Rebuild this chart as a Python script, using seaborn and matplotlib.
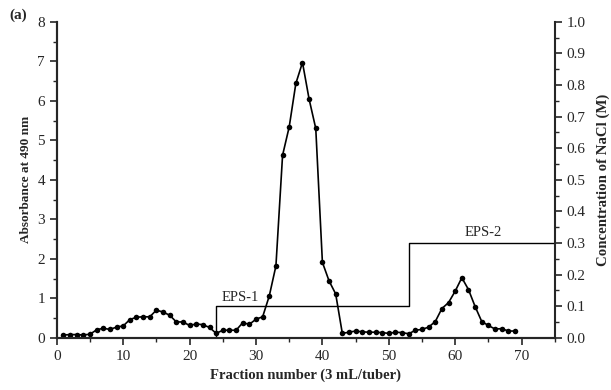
"""
Elution profile of EPS fractions (absorbance + NaCl gradient).
"""

import matplotlib.pyplot as plt
import matplotlib.ticker as mticker
import pandas as pd
import seaborn as sns

fractions = list(range(1, 70))
absorbance = [
    0.07, 0.08, 0.08, 0.07, 0.09, 0.20, 0.24, 0.21, 0.27, 0.30,
    0.46, 0.52, 0.53, 0.53, 0.70, 0.65, 0.57, 0.40, 0.40, 0.31,
    0.35, 0.33, 0.26, 0.11, 0.19, 0.19, 0.19, 0.38, 0.34, 0.47,
    0.53, 1.06, 1.82, 4.62, 5.34, 6.44, 6.97, 6.04, 5.30, 1.91,
    1.44, 1.11, 0.11, 0.14, 0.17, 0.15, 0.14, 0.14, 0.13, 0.11,
    0.14, 0.13, 0.10, 0.19, 0.21, 0.27, 0.41, 0.74, 0.89, 1.18,
    1.52, 1.22, 0.79, 0.41, 0.31, 0.22, 0.23, 0.17, 0.17,
]
nacl_x = [24, 24, 53, 53, 75]
nacl_conc = [0.0, 0.1, 0.1, 0.3, 0.3]

sns.set_style("ticks")
plt.rcParams["font.family"] = ["Liberation Serif", "DejaVu Serif"]
plt.rcParams["font.size"] = 10

df = pd.DataFrame({"Fraction": fractions, "Absorbance": absorbance})

fig = plt.figure(figsize=(6.11, 3.9), dpi=100)
ax = fig.add_axes([0.093, 0.134, 0.815, 0.81])

sns.lineplot(data=df, x="Fraction", y="Absorbance", ax=ax, color="black",
             linewidth=1.2, marker="o", markersize=4, markeredgewidth=0)
ax.set_xlim(0, 75)
ax.set_ylim(0, 8)
ax.xaxis.set_major_locator(mticker.MultipleLocator(10))
ax.xaxis.set_minor_locator(mticker.MultipleLocator(5))
ax.yaxis.set_major_locator(mticker.MultipleLocator(1))
ax.yaxis.set_minor_locator(mticker.MultipleLocator(0.5))
ax.set_xlabel("Fraction number (3 mL/tuber)", fontweight="bold", fontsize=10.5)
ax.set_ylabel("Absorbance at 490 nm", fontweight="bold", fontsize=9.5)

ax2 = ax.twinx()
ax2.plot(nacl_x, nacl_conc, color="black", linewidth=1.0)
ax2.set_ylim(0, 1.0)
ax2.yaxis.set_major_locator(mticker.MultipleLocator(0.1))
ax2.yaxis.set_minor_locator(mticker.MultipleLocator(0.05))
ax2.yaxis.set_major_formatter(mticker.FormatStrFormatter("%.1f"))
ax2.set_ylabel("Concentration of NaCl (M)", fontweight="bold", fontsize=10.7,
               labelpad=8)

for a in (ax, ax2):
    a.spines["top"].set_visible(False)
    for s in a.spines.values():
        s.set_linewidth(1.5)
    a.tick_params(which="major", length=5, width=1.2, direction="out", labelsize=11)
    a.tick_params(which="minor", length=3, width=1.0, direction="out")
ax.spines["right"].set_visible(False)

ax.text(27.6, 1.03, "EPS-1", ha="center", va="center", fontsize=10.5)
ax.text(64.2, 2.67, "EPS-2", ha="center", va="center", fontsize=10.5)
fig.text(0.016, 0.952, "(a)", fontweight="bold", fontsize=11)

fig.savefig("out.png", dpi=100)
